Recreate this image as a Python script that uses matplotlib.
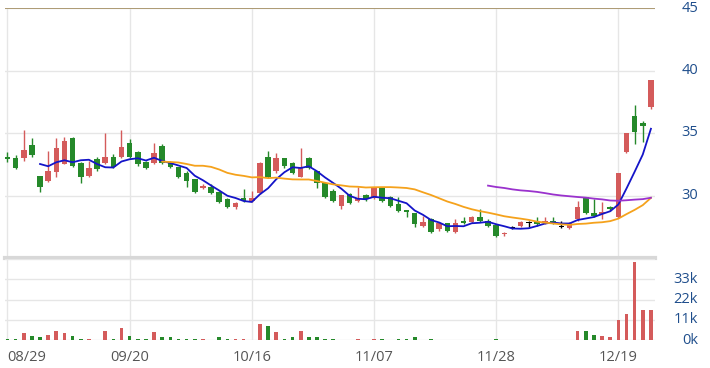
import numpy as np
import matplotlib
matplotlib.use('Agg')
import matplotlib.pyplot as plt

plt.rcParams['font.family'] = ['Open Sans', 'DejaVu Sans']

# x tick labels (trading-day index -> date)
dates = ['08/29', '09/20', '10/16', '11/07', '11/28', '12/19']
date_pos = [0, 15, 30, 45, 60, 75]

opens = [33.1, 33.0, 33.0, 34.0, 31.6, 31.2, 31.9, 32.5, 34.6, 32.6,
         31.6, 32.9, 32.6, 33.1, 33.1, 34.2, 33.5, 32.7, 32.6, 34.0,
         32.7, 32.3, 31.8, 31.3, 30.6, 30.7, 30.3, 29.7, 29.1, 29.8,
         29.6, 30.2, 33.1, 32.0, 33.0, 32.6, 31.5, 33.0, 32.0, 31.0,
         30.4, 29.2, 30.1, 29.6, 30.0, 29.8, 30.6, 29.9, 29.3, 28.8,
         28.6, 27.6, 28.1, 27.3, 27.8, 27.1, 28.0, 27.9, 28.3, 28.0,
         27.6, 26.95, 27.4, 27.6, 27.8, 27.9, 27.8, 28.0, 27.5, 27.4,
         28.1, 29.9, 28.6, 28.5, 29.1, 28.3, 33.5, 36.4, 35.8, 37.1]
highs = [33.5, 33.2, 35.2, 34.6, 31.6, 33.6, 34.6, 34.7, 34.7, 32.7,
         32.8, 33.1, 35.0, 33.3, 35.2, 34.5, 33.6, 32.8, 34.2, 34.1,
         32.8, 32.3, 32.0, 31.3, 30.9, 30.9, 30.4, 29.8, 29.5, 30.5,
         30.4, 32.7, 33.6, 33.4, 33.0, 32.7, 33.8, 33.1, 32.0, 31.0,
         30.5, 30.0, 30.2, 30.7, 30.1, 30.7, 30.7, 30.0, 29.9, 28.8,
         28.6, 28.4, 28.2, 27.9, 27.8, 28.1, 28.3, 28.4, 28.9, 28.1,
         27.7, 27.1, 27.6, 28.0, 28.0, 28.3, 28.3, 28.3, 28.0, 27.9,
         29.6, 29.9, 29.7, 29.5, 29.2, 31.8, 35.0, 37.2, 36.0, 39.2]
lows = [32.7, 32.1, 32.8, 33.1, 30.3, 31.1, 31.5, 32.5, 32.3, 31.0,
        31.5, 32.0, 32.5, 32.2, 33.0, 33.0, 32.4, 32.1, 32.5, 32.5,
        32.2, 31.4, 30.7, 30.2, 30.5, 30.1, 29.4, 29.0, 28.9, 29.5,
        29.5, 30.1, 31.4, 31.8, 32.2, 31.7, 31.5, 32.1, 30.6, 29.8,
        29.5, 28.9, 29.3, 29.5, 29.6, 29.7, 29.5, 29.1, 28.7, 28.3,
        27.5, 27.5, 27.0, 27.2, 27.1, 27.0, 27.7, 27.8, 27.9, 27.5,
        26.7, 26.8, 27.3, 27.5, 27.5, 27.6, 27.7, 27.7, 27.4, 27.3,
        28.0, 28.5, 28.3, 28.1, 28.8, 28.2, 33.4, 34.1, 34.3, 36.9]
closes = [32.9, 32.2, 33.6, 33.2, 30.7, 32.0, 33.8, 34.4, 32.4, 31.5,
          32.2, 32.1, 33.1, 32.3, 33.9, 33.1, 32.5, 32.2, 33.4, 32.6,
          32.3, 31.5, 31.2, 30.3, 30.8, 30.2, 29.5, 29.1, 29.4, 29.6,
          29.8, 32.6, 31.5, 33.0, 32.4, 31.8, 32.3, 32.2, 31.0, 29.9,
          29.6, 30.0, 29.4, 29.8, 29.7, 30.6, 29.6, 29.2, 28.8, 28.7,
          27.7, 27.9, 27.1, 27.8, 27.2, 27.8, 27.8, 28.3, 28.0, 27.6,
          26.8, 27.0, 27.4, 27.9, 27.8, 27.7, 28.0, 27.8, 27.5, 27.8,
          29.1, 28.6, 28.4, 28.7, 28.9, 31.8, 35.0, 35.1, 35.6, 39.2]

# volume in thousands
volume_k = [0.4, 0.4, 3.7, 2.2, 1.5, 2.7, 5.0, 3.7, 2.2, 0.4,
            0.4, 0.0, 5.0, 0.4, 6.6, 2.2, 0.4, 0.4, 4.4, 1.6,
            1.6, 0.4, 0.4, 0.4, 0.4, 0.0, 1.5, 0.4, 0.4, 0.4,
            0.0, 8.8, 7.7, 4.4, 0.4, 1.5, 5.1, 1.5, 1.5, 0.4,
            0.4, 0.0, 0.0, 0.4, 0.0, 0.4, 0.4, 0.0, 0.4, 0.4,
            1.5, 0.0, 0.4, 0.0, 0.0, 0.0, 0.0, 0.0, 0.0, 0.0,
            0.4, 0.0, 0.0, 0.0, 0.0, 0.0, 0.0, 0.0, 0.0, 0.0,
            5.0, 5.1, 2.7, 2.2, 1.5, 11.0, 14.1, 42.2, 16.5, 16.5]

# moving averages (5 / 20 / 60 day)
ma5_start = 4
ma5 = [32.52, 32.34, 32.66, 32.82, 32.66, 32.82, 32.86, 32.52, 32.26, 32.24,
       32.72, 32.90, 32.98, 32.80, 33.02, 32.76, 32.60, 32.40, 32.20, 31.58,
       31.22, 30.80, 30.40, 29.98, 29.80, 29.56, 29.48, 30.10, 30.58, 31.30,
       31.86, 32.26, 32.20, 32.34, 31.94, 31.44, 31.00, 30.54, 29.98, 29.74,
       29.70, 29.90, 29.82, 29.78, 29.58, 29.38, 28.80, 28.46, 28.04, 27.84,
       27.54, 27.56, 27.54, 27.78, 27.82, 27.90, 27.70, 27.54, 27.36, 27.34,
       27.38, 27.56, 27.76, 27.84, 27.76, 27.76, 28.04, 28.16, 28.28, 28.52,
       28.74, 29.28, 30.56, 31.90, 33.28, 35.34]
ma20_start = 19
ma20 = [32.71, 32.68, 32.64, 32.52, 32.38, 32.38, 32.29, 32.08, 31.81, 31.66,
        31.57, 31.45, 31.47, 31.39, 31.43, 31.35, 31.29, 31.28, 31.28, 31.16,
        31.02, 30.89, 30.81, 30.72, 30.70, 30.64, 30.66, 30.67, 30.67, 30.64,
        30.60, 30.49, 30.26, 30.04, 29.78, 29.52, 29.32, 29.09, 28.90, 28.75,
        28.63, 28.49, 28.34, 28.24, 28.15, 28.05, 27.91, 27.83, 27.76, 27.69,
        27.65, 27.72, 27.75, 27.82, 27.86, 27.95, 28.15, 28.51, 28.85, 29.23,
        29.81]
ma60_start = 59
ma60 = [30.79, 30.68, 30.60, 30.49, 30.41, 30.36, 30.29, 30.19, 30.08, 30.00,
        29.94, 29.88, 29.83, 29.75, 29.69, 29.60, 29.58, 29.62, 29.67, 29.71,
        29.82]

price_ticks = [30, 35, 40, 45]
vol_ticks = [0, 11, 22, 33]

RED = '#d45b5b'
GREEN = '#25892a'
GRID = '#e6e6e6'
LABEL = '#1f4e8c'

W, H = 710, 368
fig = plt.figure(figsize=(W / 100, H / 100), dpi=100)
left, width = 5 / W, 650 / W
ax = fig.add_axes([left, 1 - 258 / H, width, 250 / H])
axv = fig.add_axes([left, 1 - 340 / H, width, 81 / H], sharex=ax)

x = np.arange(len(closes))
o = np.array(opens)
c = np.array(closes)

colors = []
for oo, cc in zip(o, c):
    if cc > oo:
        colors.append(RED)
    elif cc < oo:
        colors.append(GREEN)
    else:
        colors.append('black')

# candles
ax.vlines(x, lows, highs, colors=colors, linewidth=1, zorder=3)
body_h = np.maximum(np.abs(c - o), 0.06)
ax.bar(x, body_h, bottom=np.minimum(o, c), width=0.68, color=colors,
       linewidth=0, zorder=4)

# moving averages
ax.plot(np.arange(ma5_start, ma5_start + len(ma5)), ma5, color='#1414c8', lw=1.3, zorder=5)
ax.plot(np.arange(ma20_start, ma20_start + len(ma20)), ma20, color='#f5a21c', lw=1.3, zorder=5)
ax.plot(np.arange(ma60_start, ma60_start + len(ma60)), ma60, color='#9a32cd', lw=1.3, zorder=5)

ax.set_ylim(25, 45)
ax.set_yticks([25] + price_ticks)
ax.axhline(45, color='#a8956a', lw=1.3, zorder=2)
ax.axhline(25, color='#d8d8d8', lw=3, zorder=2, clip_on=False)

# volume, coloured by change against previous close
vcolors = [GREEN] + [RED if c[i] >= c[i - 1] else GREEN for i in range(1, len(c))]
axv.bar(x, volume_k, width=0.45, color=vcolors, linewidth=0, zorder=3)
axv.set_ylim(0, 44)
axv.set_yticks(vol_ticks + [44])

for a in (ax, axv):
    for s in a.spines.values():
        s.set_visible(False)
    a.grid(True, color=GRID, linewidth=1, zorder=0)
    a.set_axisbelow(True)
    a.tick_params(left=False, right=False, bottom=False, labelleft=False)

ax.set_xlim(-0.3, 79.5)
axv.set_xticks(date_pos)
axv.set_xticklabels(dates)
ax.tick_params(labelbottom=False)
axv.tick_params(axis='x', colors='#555555', labelsize=10.5, pad=4)
axv.get_xticklabels()[0].set_horizontalalignment('left')

lx = 1 + 43 / 650
for v in price_ticks:
    ax.text(lx, v, str(v), transform=ax.get_yaxis_transform(), ha='right',
            va='center', fontsize=10.5, color=LABEL)
for v in vol_ticks:
    axv.text(lx, v, f'{v}k', transform=axv.get_yaxis_transform(), ha='right',
             va='center', fontsize=10.5, color=LABEL)

fig.savefig('out.png', dpi=100)
